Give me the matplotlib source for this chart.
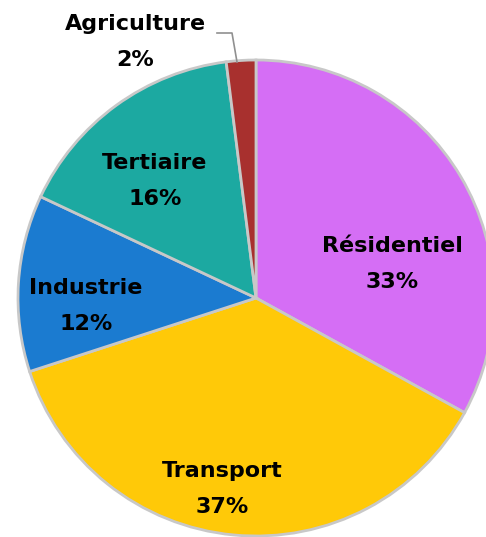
import matplotlib.pyplot as plt

# Répartition de la consommation par secteur (%)
secteurs = ["Résidentiel", "Transport", "Industrie", "Tertiaire", "Agriculture"]
parts = [33, 37, 12, 16, 2]
couleurs = ["#D56EF5", "#FFC908", "#1B7BD0", "#1CA9A1", "#A8302E"]

fig = plt.figure(figsize=(4.86, 5.37), dpi=100)
ax = fig.add_axes([0, 0, 1, 1])

H = 537
cx, cy, r = 256, H - 298, 238
wedges, _ = ax.pie(parts, colors=couleurs, startangle=90, counterclock=False,
                   center=(cx, cy), radius=r,
                   wedgeprops=dict(edgecolor="#C8C8C8", linewidth=2))

# label centres in pixels (from top-left)
pos_labels = [(392, 264), (222, 489), (86, 306), (155, 181), (135, 42)]

for nom, p, (x, y) in zip(secteurs, parts, pos_labels):
    ax.text(x, H - y, f"{nom}\n{p}%", ha="center", va="center", fontsize=16,
            fontweight="bold", linespacing=1.95, color="black")

# leader line for Agriculture
ax.plot([217, 232, 237], [H - 33, H - 33, H - 62], color="#909090", lw=1.2)

ax.set_xlim(0, 486)
ax.set_ylim(0, H)
ax.set_aspect("equal")
ax.axis("off")

plt.savefig("out.png", dpi=100)
